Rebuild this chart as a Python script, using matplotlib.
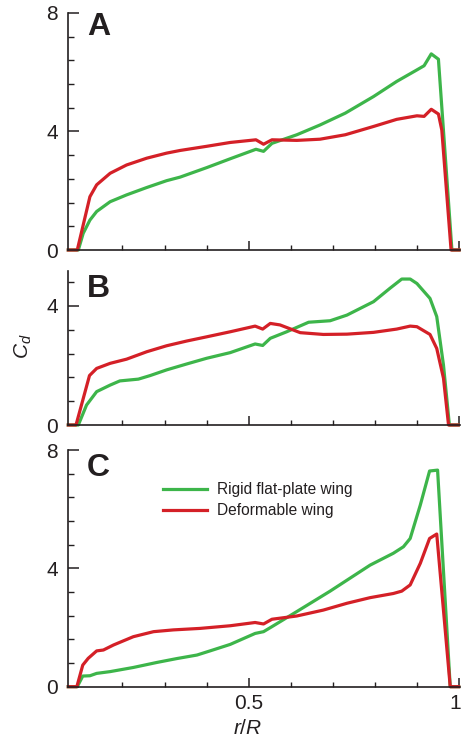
import matplotlib
matplotlib.use("Agg")
import matplotlib.pyplot as plt
from matplotlib.ticker import MultipleLocator, FixedLocator
from matplotlib.transforms import ScaledTranslation

plt.rcParams['font.family'] = ['Liberation Sans', 'DejaVu Sans']
plt.rcParams['mathtext.fontset'] = 'custom'
plt.rcParams['mathtext.rm'] = 'Liberation Sans'
plt.rcParams['mathtext.it'] = 'Liberation Sans:italic'

TEXT = '#231f20'
GREEN = '#3db54a'
RED = '#d42027'

# Spanwise drag coefficient distributions, r/R vs C_d
a_rigid_x = [0.0717, 0.0955, 0.107, 0.123, 0.139, 0.171, 0.210, 0.258, 0.305, 0.337, 0.40, 0.456,
             0.517, 0.535, 0.555, 0.614, 0.669, 0.729, 0.796, 0.851, 0.899, 0.916, 0.933, 0.950,
             0.982, 0.999]
a_rigid_y = [0, 0, 0.56, 1.01, 1.30, 1.63, 1.86, 2.11, 2.34, 2.46, 2.78, 3.08,
             3.40, 3.33, 3.60, 3.89, 4.22, 4.62, 5.18, 5.69, 6.08, 6.22, 6.62, 6.44,
             0, 0]
a_deform_x = [0.0717, 0.093, 0.123, 0.139, 0.171, 0.210, 0.258, 0.305, 0.337, 0.40, 0.456,
              0.517, 0.535, 0.555, 0.614, 0.669, 0.729, 0.796, 0.851, 0.899, 0.916, 0.933,
              0.950, 0.958, 0.980, 0.999]
a_deform_y = [0, 0, 1.80, 2.20, 2.59, 2.87, 3.10, 3.27, 3.36, 3.50, 3.63,
              3.72, 3.57, 3.72, 3.70, 3.74, 3.89, 4.17, 4.41, 4.53, 4.51, 4.75,
              4.59, 4.05, 0, 0]

b_rigid_x = [0.0717, 0.0955, 0.115, 0.139, 0.171, 0.194, 0.238, 0.266, 0.305, 0.353, 0.40, 0.456,
             0.515, 0.533, 0.551, 0.590, 0.642, 0.693, 0.733, 0.796, 0.835, 0.863, 0.883, 0.899,
             0.930, 0.946, 0.962, 0.976, 0.997]
b_rigid_y = [0, 0, 0.67, 1.12, 1.34, 1.48, 1.54, 1.66, 1.85, 2.05, 2.24, 2.43,
             2.72, 2.67, 2.91, 3.13, 3.45, 3.50, 3.69, 4.14, 4.59, 4.90, 4.90, 4.75,
             4.25, 3.64, 2.01, 0, 0]
b_deform_x = [0.0717, 0.090, 0.122, 0.139, 0.171, 0.210, 0.258, 0.305, 0.353, 0.40, 0.456,
              0.515, 0.533, 0.551, 0.574, 0.622, 0.677, 0.733, 0.796, 0.851, 0.883, 0.899,
              0.930, 0.946, 0.962, 0.974, 0.997]
b_deform_y = [0, 0, 1.66, 1.90, 2.07, 2.21, 2.46, 2.66, 2.82, 2.96, 3.13,
              3.32, 3.22, 3.41, 3.36, 3.10, 3.04, 3.05, 3.11, 3.22, 3.32, 3.30,
              3.04, 2.57, 1.57, 0, 0]

c_rigid_x = [0.0717, 0.093, 0.106, 0.123, 0.139, 0.171, 0.226, 0.282, 0.329, 0.377, 0.408, 0.456,
             0.515, 0.535, 0.555, 0.614, 0.693, 0.788, 0.843, 0.867, 0.883, 0.907, 0.929, 0.948,
             0.978, 0.998]
c_rigid_y = [0, 0, 0.36, 0.37, 0.45, 0.51, 0.65, 0.82, 0.95, 1.07, 1.21, 1.43,
             1.80, 1.86, 2.03, 2.54, 3.23, 4.11, 4.51, 4.73, 5.01, 6.14, 7.29, 7.32,
             0, 0]
c_deform_x = [0.0717, 0.092, 0.106, 0.119, 0.139, 0.155, 0.179, 0.226, 0.274, 0.321, 0.384, 0.456,
              0.515, 0.535, 0.555, 0.614, 0.677, 0.733, 0.788, 0.843, 0.863, 0.883, 0.907, 0.929,
              0.946, 0.978, 0.998]
c_deform_y = [0, 0, 0.73, 0.96, 1.21, 1.24, 1.41, 1.69, 1.86, 1.92, 1.97, 2.06,
              2.17, 2.12, 2.28, 2.39, 2.59, 2.82, 3.01, 3.15, 3.23, 3.44, 4.17, 5.01,
              5.16, 0, 0]

panel_labels = ['A', 'B', 'C']
y_tops = [8.0, 5.17, 8.0]
y_major_ticks = [[0, 4, 8], [0, 4], [0, 4, 8]]
x_major_ticks = [0.5, 1.0]
x_tick_labels = ['0.5', '1']
series_names = ['Rigid flat-plate wing', 'Deformable wing']

W, H = 461, 742
fig = plt.figure(figsize=(W / 100, H / 100), dpi=100)

left_px, right_px = 68.3, 460.0
panel_px = [(13, 250), (271, 425), (450, 686.7)]
letter_top_px = [12, 273.5, 452.5]

data = [
    (a_rigid_x, a_rigid_y, a_deform_x, a_deform_y),
    (b_rigid_x, b_rigid_y, b_deform_x, b_deform_y),
    (c_rigid_x, c_rigid_y, c_deform_x, c_deform_y),
]

axes = []
for i, (top, bot) in enumerate(panel_px):
    ax = fig.add_axes([left_px / W, 1 - bot / H, (right_px - left_px) / W, (bot - top) / H])
    rx, ry, dx, dy = data[i]
    ax.plot(rx, ry, color=GREEN, lw=2.3, label=series_names[0], solid_joinstyle='round', clip_on=False)
    ax.plot(dx, dy, color=RED, lw=2.3, label=series_names[1], solid_joinstyle='round', clip_on=False)
    ax.set_xlim(0.0717, 1.0012)
    ax.set_ylim(0, y_tops[i])
    for s in ['top', 'right']:
        ax.spines[s].set_visible(False)
    for s in ['left', 'bottom']:
        ax.spines[s].set_linewidth(1.2)
        ax.spines[s].set_color(TEXT)
    ax.yaxis.set_major_locator(FixedLocator(y_major_ticks[i]))
    ax.yaxis.set_minor_locator(MultipleLocator(0.8))
    ax.xaxis.set_major_locator(FixedLocator(x_major_ticks))
    ax.xaxis.set_minor_locator(FixedLocator([0.2, 0.3, 0.4, 0.6, 0.7, 0.8, 0.9]))
    ax.tick_params(axis='y', which='major', direction='in', length=8, width=1.1,
                   labelsize=15, pad=7.5, colors=TEXT)
    ax.tick_params(axis='y', which='minor', direction='in', length=4, width=1.0, colors=TEXT)
    ax.tick_params(axis='x', which='major', direction='in', length=6.5, width=1.1,
                   labelsize=15, pad=5, colors=TEXT)
    ax.tick_params(axis='x', which='minor', direction='in', length=3.6, width=1.0, colors=TEXT)
    if i < 2:
        ax.set_xticklabels([])
    else:
        ax.set_xticklabels(x_tick_labels)
    ax.text(87 / W, 1 - letter_top_px[i] / H, panel_labels[i],
            transform=fig.transFigure, fontsize=23, fontweight='bold', color=TEXT,
            ha='left', va='top')
    axes.append(ax)

axC = axes[2]
# nudge the "1" label so it stays inside the canvas
one_label = axC.get_xticklabels()[1]
one_label.set_transform(one_label.get_transform() + ScaledTranslation(-3 / 72, 0, fig.dpi_scale_trans))

leg = axC.legend(loc='upper left', bbox_to_anchor=((163 - left_px) / (right_px - left_px), 0.865),
                 frameon=False, fontsize=11.2, handlelength=2.83, handletextpad=0.64,
                 labelspacing=0.42, borderpad=0, borderaxespad=0)
for t in leg.get_texts():
    t.set_color(TEXT)

fig.text(23 / W, 1 - 346 / H, r'$C_d$', rotation=90, fontsize=15, color=TEXT,
         ha='center', va='center')
fig.text(248 / W, 1 - 729 / H, r'$r/R$', fontsize=15, color=TEXT, ha='center', va='center')

fig.savefig('out.png', dpi=100)
